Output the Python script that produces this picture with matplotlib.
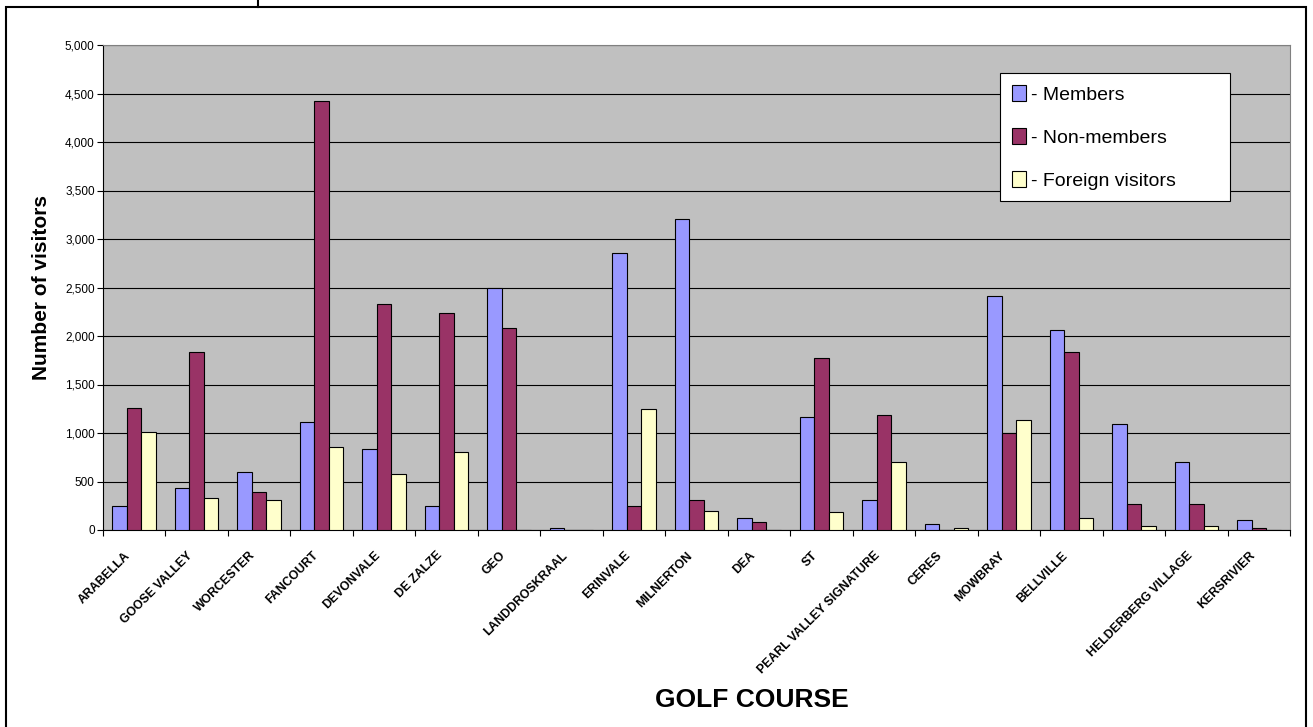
import numpy as np
import matplotlib.pyplot as plt
from matplotlib.patches import Rectangle
from matplotlib.lines import Line2D
from matplotlib.ticker import FuncFormatter, MultipleLocator
from matplotlib.transforms import ScaledTranslation

plt.rcParams['font.family'] = ['Liberation Sans', 'DejaVu Sans']

courses = ['ARABELLA', 'GOOSE VALLEY', 'WORCESTER', 'FANCOURT', 'DEVONVALE',
           'DE ZALZE', 'GEO', 'LANDDROSKRAAL', 'ERINVALE', 'MILNERTON', 'DEA',
           'ST', 'PEARL VALLEY SIGNATURE', 'CERES', 'MOWBRAY', 'BELLVILLE',
           '', 'HELDERBERG VILLAGE', 'KERSRIVIER']
members = [250, 430, 600, 1110, 840, 250, 2490, 20, 2860, 3210, 120,
           1170, 310, 60, 2410, 2060, 1090, 700, 100]
non_members = [1260, 1830, 390, 4420, 2330, 2240, 2080, 0, 250, 310, 80,
               1770, 1190, 0, 1000, 1830, 270, 270, 20]
foreign = [1010, 330, 310, 860, 580, 800, 0, 0, 1250, 200, 0,
           190, 700, 20, 1130, 120, 40, 40, 0]

fig = plt.figure(figsize=(13.13, 7.27), dpi=100)
ax = fig.add_axes([103/1313, 1-530/727, 1187/1313, 485/727])

x = np.arange(len(courses))
w = 0.232
ax.bar(x - w, members, w, color='#9999FF', edgecolor='black', linewidth=0.8, zorder=3)
ax.bar(x, non_members, w, color='#993366', edgecolor='black', linewidth=0.8, zorder=3)
ax.bar(x + w, foreign, w, color='#FFFFCC', edgecolor='black', linewidth=0.8, zorder=3)

ax.set_facecolor('#C0C0C0')
ax.set_xlim(-0.5, len(courses) - 0.5)
ax.set_ylim(0, 5000)
ax.yaxis.set_major_locator(MultipleLocator(500))
ax.yaxis.set_major_formatter(FuncFormatter(lambda v, p: f'{int(v):,}'))
ax.grid(axis='y', color='black', linewidth=0.8, zorder=1)
ax.tick_params(axis='y', labelsize=8.5, length=4, width=0.8, pad=2)
ax.spines['top'].set_color('#808080')
ax.spines['right'].set_color('#808080')

ax.set_xticks(x)
ax.set_xticklabels(courses, rotation=45, ha='right', rotation_mode='anchor',
                   fontsize=8.8, fontweight='bold')
ax.set_xticks(np.arange(-0.5, len(courses)), minor=True)
ax.tick_params(axis='x', which='major', length=0, pad=14)
ax.tick_params(axis='x', which='minor', length=4, width=0.8)
shift = ScaledTranslation(-10/100, 0, fig.dpi_scale_trans)
for lbl in ax.get_xticklabels():
    lbl.set_transform(lbl.get_transform() + shift)

ax.set_ylabel('Number of visitors', fontsize=15, fontweight='bold', labelpad=10)
fig.text(752/1313, 1-700/727, 'GOLF COURSE', fontsize=19, fontweight='bold',
         ha='center', va='center')

handles = [Rectangle((0, 0), 1, 1, facecolor=c, edgecolor='black', linewidth=0.8)
           for c in ['#9999FF', '#993366', '#FFFFCC']]
leg = ax.legend(handles, ['- Members', '- Non-members', '- Foreign visitors'],
                loc='upper left', bbox_to_anchor=(0.7557, 0.678, 0.1937, 0.264),
                mode='expand', fontsize=14,
                frameon=True, fancybox=False, edgecolor='black', framealpha=1,
                handlelength=0.75, handleheight=0.9, handletextpad=0.25,
                labelspacing=1.25, borderpad=0.6, borderaxespad=0)
leg.get_frame().set_linewidth(0.8)
leg.set_zorder(5)

# outer border of the chart
fig.add_artist(Rectangle((6/1313, -0.01), 1300/1313, 1.01 - 7/727,
                         transform=fig.transFigure, fill=False,
                         edgecolor='black', linewidth=1.5))
fig.add_artist(Line2D([258/1313, 258/1313], [1 - 7/727, 1],
                      transform=fig.transFigure, color='black', linewidth=1.5))

fig.savefig('out.png', dpi=100)
